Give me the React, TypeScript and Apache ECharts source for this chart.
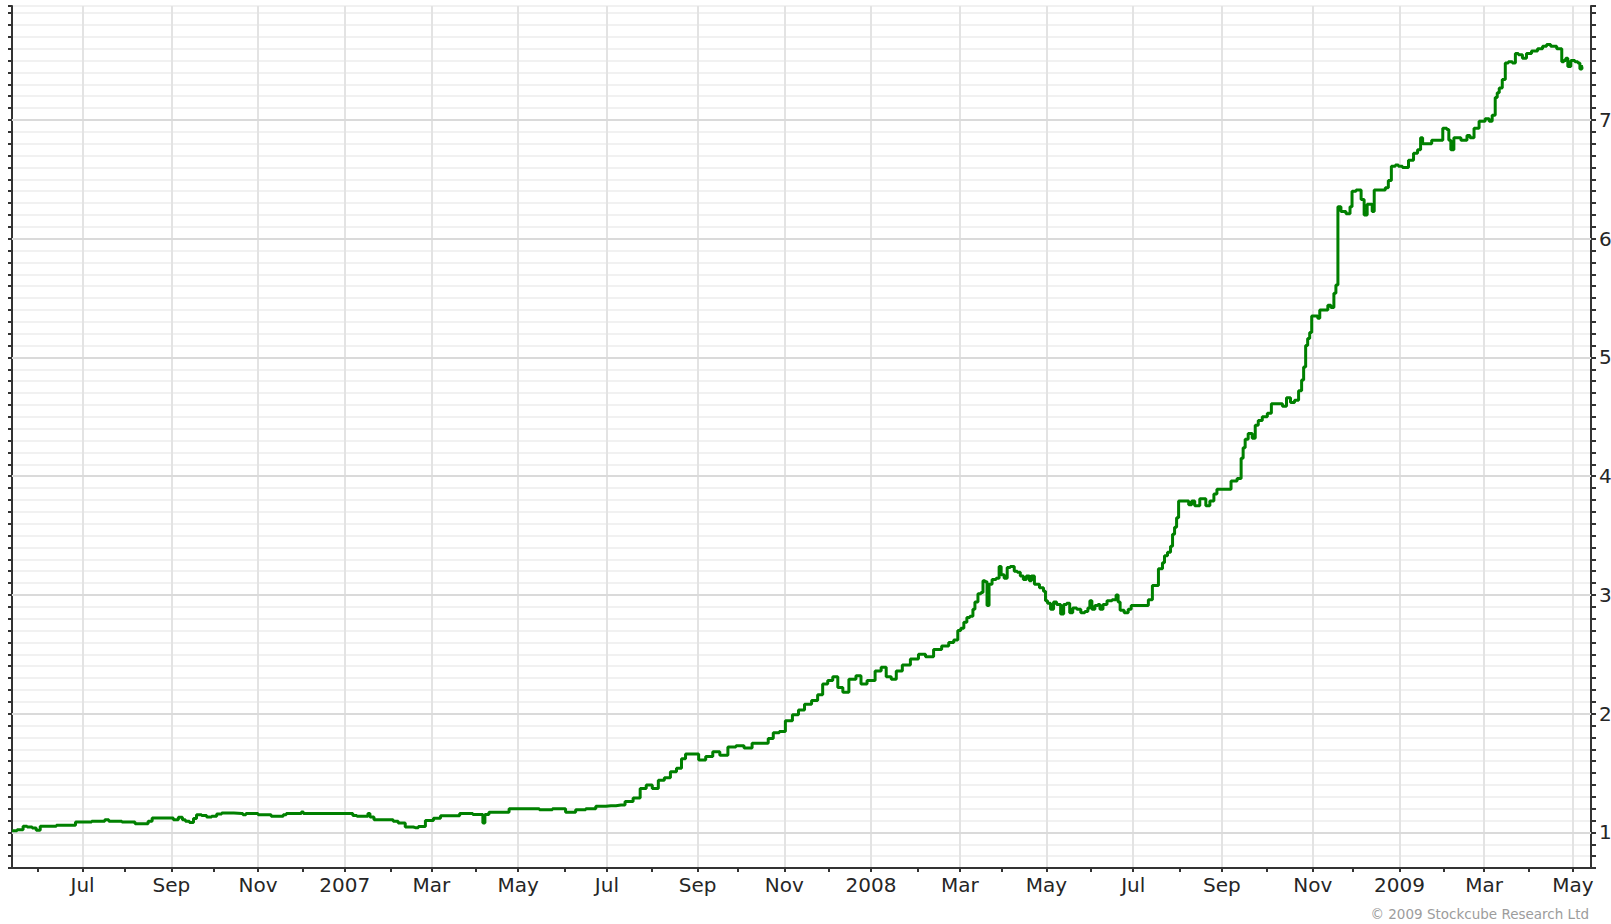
import React, { useEffect, useRef } from "react";
import * as echarts from "echarts";

// ---- data ----
const START_DATE = "2006-05-15"; // first trading day on the axis
const TRADING_DAYS_SHOWN = 784;
const MONTH_NAMES = ["Jan", "Feb", "Mar", "Apr", "May", "Jun", "Jul", "Aug", "Sep", "Oct", "Nov", "Dec"];
const Y_MAJOR = [1, 2, 3, 4, 5, 6, 7];
const Y_MIN = 0.7;
const Y_MAX = 7.96;
const Y_STEP = 0.1;
const COPYRIGHT = "\u00A9 2009 Stockcube Research Ltd";

// trading-day offset from START_DATE
const TRADING_DAY = [
  0, 5, 6, 9, 11, 13, 15, 29, 34, 45, 47, 49, 60, 62, 67, 68, 71, 79, 81, 84, 85, 87, 89, 91, 92, 96, 97, 101, 102,
  106, 114, 115, 117, 121, 123, 128, 129, 134, 135, 137, 143, 144, 145, 168, 170, 172, 176, 177, 178, 181, 187, 191,
  192, 198, 200, 203, 207, 211, 214, 218, 226, 231, 233, 234, 235, 238, 244, 249, 259, 264, 272, 277, 282, 287, 292,
  297, 302, 306, 310, 313, 316, 319, 322, 325, 328, 331, 333, 335, 339, 342, 346, 349, 353, 357, 361, 365, 369, 374,
  376, 379, 382, 385, 389, 391, 395, 398, 401, 403, 406, 408, 411, 413, 417, 420, 422, 426, 430, 432, 435, 437, 440,
  443, 448, 451, 455, 459, 463, 466, 468, 470, 471, 473, 474, 476, 477, 478, 480, 481, 482, 483, 484, 485, 487, 489,
  490, 491, 493, 494, 496, 498, 499, 501, 502, 504, 505, 506, 508, 511, 512, 513, 514, 516, 517, 519, 521, 522, 524,
  525, 527, 529, 531, 533, 534, 535, 536, 538, 539, 540, 542, 544, 547, 548, 549, 550, 553, 554, 556, 563, 564, 567,
  570, 571, 572, 574, 575, 576, 577, 578, 579, 583, 584, 586, 587, 591, 593, 595, 597, 598, 603, 606, 609, 610, 611,
  612, 614, 616, 617, 619, 621, 624, 625, 629, 631, 633, 635, 637, 639, 640, 641, 642, 643, 644, 645, 647, 648, 649,
  652, 653, 655, 656, 657, 658, 660, 663, 664, 665, 668, 670, 671, 673, 674, 675, 676, 680, 682, 683, 685, 687, 688,
  691, 694, 696, 698, 699, 700, 708, 711, 712, 713, 714, 716, 721, 722, 724, 726, 729, 732, 733, 735, 736, 737, 738,
  740, 741, 743, 745, 746, 748, 750, 752, 755, 758, 760, 762, 764, 768, 769, 770, 771, 772, 774, 776, 777, 778, 779,
];

const VALUE = [
  1.014, 1.023, 1.051, 1.045, 1.036, 1.017, 1.051, 1.059, 1.087, 1.093, 1.107, 1.093, 1.087, 1.073, 1.073, 1.093,
  1.121, 1.121, 1.107, 1.127, 1.107, 1.093, 1.084, 1.116, 1.149, 1.143, 1.129, 1.135, 1.154, 1.163, 1.16, 1.149,
  1.158, 1.158, 1.149, 1.149, 1.135, 1.135, 1.149, 1.158, 1.158, 1.171, 1.158, 1.158, 1.143, 1.135, 1.135, 1.158,
  1.129, 1.107, 1.107, 1.093, 1.078, 1.045, 1.04, 1.05, 1.1, 1.12, 1.14, 1.14, 1.16, 1.15, 1.15, 1.08, 1.15, 1.17,
  1.17, 1.2, 1.2, 1.19, 1.2, 1.17, 1.19, 1.2, 1.22, 1.225, 1.23, 1.26, 1.29, 1.37, 1.4, 1.37, 1.44, 1.46, 1.51, 1.54,
  1.62, 1.66, 1.66, 1.61, 1.64, 1.68, 1.65, 1.72, 1.73, 1.71, 1.75, 1.75, 1.79, 1.84, 1.85, 1.94, 1.99, 2.03, 2.08,
  2.11, 2.16, 2.25, 2.28, 2.31, 2.22, 2.18, 2.29, 2.32, 2.25, 2.28, 2.36, 2.39, 2.31, 2.29, 2.36, 2.41, 2.46, 2.5,
  2.48, 2.54, 2.57, 2.6, 2.62, 2.7, 2.72, 2.77, 2.81, 2.82, 2.88, 2.94, 3.01, 3.02, 3.12, 3.11, 2.91, 3.09, 3.13,
  3.14, 3.24, 3.17, 3.14, 3.23, 3.24, 3.2, 3.19, 3.16, 3.13, 3.16, 3.12, 3.16, 3.09, 3.06, 3.03, 2.95, 2.93, 2.88,
  2.94, 2.92, 2.84, 2.92, 2.93, 2.85, 2.89, 2.88, 2.85, 2.86, 2.89, 2.95, 2.88, 2.91, 2.92, 2.88, 2.92, 2.95, 2.96,
  3.0, 2.94, 2.87, 2.85, 2.88, 2.91, 2.91, 2.96, 3.08, 3.22, 3.27, 3.33, 3.36, 3.41, 3.51, 3.57, 3.65, 3.79, 3.79,
  3.76, 3.79, 3.75, 3.81, 3.75, 3.79, 3.85, 3.89, 3.89, 3.96, 3.98, 4.15, 4.24, 4.31, 4.36, 4.32, 4.43, 4.47, 4.5,
  4.53, 4.61, 4.61, 4.59, 4.66, 4.62, 4.64, 4.72, 4.81, 4.92, 5.1, 5.16, 5.21, 5.35, 5.35, 5.33, 5.4, 5.4, 5.44,
  5.42, 5.54, 5.61, 6.27, 6.23, 6.21, 6.27, 6.4, 6.41, 6.33, 6.2, 6.29, 6.29, 6.23, 6.41, 6.41, 6.43, 6.49, 6.61,
  6.62, 6.61, 6.6, 6.66, 6.72, 6.75, 6.85, 6.8, 6.83, 6.93, 6.92, 6.83, 6.75, 6.85, 6.83, 6.87, 6.85, 6.93, 6.99,
  7.01, 6.99, 7.04, 7.19, 7.23, 7.27, 7.34, 7.48, 7.49, 7.48, 7.56, 7.55, 7.52, 7.56, 7.58, 7.6, 7.62, 7.635, 7.62,
  7.6, 7.49, 7.5, 7.52, 7.45, 7.5, 7.49, 7.48, 7.43, 7.45,
];

function buildTradingDates(): string[] {
  const out: string[] = [];
  const d = new Date(START_DATE + "T00:00:00Z");
  while (out.length < TRADING_DAYS_SHOWN) {
    const wd = d.getUTCDay();
    if (wd !== 0 && wd !== 6) out.push(d.toISOString().slice(0, 10));
    d.setUTCDate(d.getUTCDate() + 1);
  }
  return out;
}

export default function App() {
  const ref = useRef<HTMLDivElement>(null);

  useEffect(() => {
    if (!ref.current) return;
    const chart = echarts.init(ref.current, null, { renderer: "svg" });

    const dates = buildTradingDates();
    const monthStart = new Set<number>();
    const labelled = new Set<number>();
    dates.forEach((s, i) => {
      if (i > 0 && s.slice(5, 7) !== dates[i - 1].slice(5, 7)) {
        monthStart.add(i);
        const m = Number(s.slice(5, 7)) - 1;
        if (m % 2 === 0) labelled.add(i);
      }
    });

    const font = "DejaVu Sans";
    const axisColor = "#333333";
    const textColor = "#262626";

    const option: any = {
      animation: false,
      backgroundColor: "#ffffff",
      grid: {
        left: 12,
        right: 20,
        top: 6,
        bottom: 56,
        show: true,
        borderColor: axisColor,
        borderWidth: 2,
        containLabel: false,
        outerBoundsMode: "none",
      },
      xAxis: {
        type: "category",
        data: dates,
        boundaryGap: false,
        axisLine: { show: true, onZero: false, lineStyle: { color: axisColor, width: 2 } },
        axisTick: {
          show: true,
          interval: (i: number) => monthStart.has(i),
          length: 4,
          lineStyle: { color: axisColor, width: 2 },
        },
        axisLabel: {
          show: true,
          interval: (i: number) => labelled.has(i),
          formatter: (v: string) => {
            const m = Number(v.slice(5, 7)) - 1;
            return m === 0 ? v.slice(0, 4) : MONTH_NAMES[m];
          },
          color: textColor,
          fontSize: 20,
          fontFamily: font,
          margin: 7,
        },
        splitLine: {
          show: true,
          interval: (i: number) => labelled.has(i),
          lineStyle: { color: "#e3e3e3", width: 2 },
        },
      },
      yAxis: [
        {
          type: "value",
          position: "left",
          min: Y_MIN,
          max: Y_MAX,
          interval: Y_STEP,
          axisLine: { show: true, lineStyle: { color: axisColor, width: 2 } },
          axisTick: { show: true, length: 4, lineStyle: { color: axisColor, width: 2 } },
          axisLabel: { show: false },
          splitLine: { show: true, lineStyle: { color: "#f1f1f1", width: 2 } },
        },
        {
          type: "value",
          position: "right",
          min: Y_MIN,
          max: Y_MAX,
          interval: Y_STEP,
          axisLine: { show: true, lineStyle: { color: axisColor, width: 2 } },
          axisTick: { show: true, length: 5, lineStyle: { color: axisColor, width: 2 } },
          axisLabel: {
            show: true,
            margin: 8,
            color: textColor,
            fontSize: 20,
            fontFamily: font,
            formatter: (v: number) => {
              const r = Math.round(v);
              return Math.abs(v - r) < 1e-6 && Y_MAJOR.indexOf(r) >= 0 ? String(r) : "";
            },
          },
          splitLine: { show: false },
        },
      ],
      series: [
        {
          type: "line",
          yAxisIndex: 0,
          data: TRADING_DAY.map((d, i) => [d, VALUE[i]]),
          symbol: "none",
          showSymbol: false,
          step: "middle",
          z: 3,
          lineStyle: { color: "#008000", width: 3 },
          markLine: {
            silent: true,
            z: 1,
            symbol: ["none", "none"],
            label: { show: false },
            lineStyle: { color: "#dadada", width: 2, type: "solid" },
            emphasis: { disabled: true },
            data: Y_MAJOR.map((v) => ({ yAxis: v })),
          },
        },
      ],
      graphic: [
        {
          type: "text",
          x: 1589,
          y: 914,
          silent: true,
          style: {
            text: COPYRIGHT,
            align: "right",
            verticalAlign: "middle",
            fill: "#9c9c9c",
            font: `13.5px "${font}"`,
          },
        },
      ],
    };

    chart.setOption(option);
    return () => chart.dispose();
  }, []);

  return (
    <div
      ref={ref}
      style={{ position: "fixed", left: 0, top: 0, width: 1611, height: 924, background: "#fff" }}
    />
  );
}
